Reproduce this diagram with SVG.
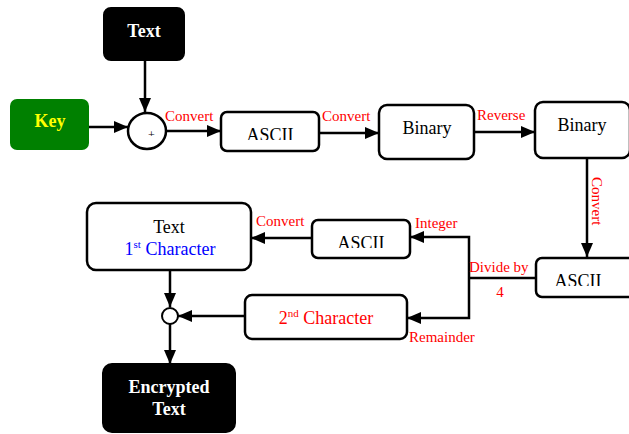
<svg xmlns="http://www.w3.org/2000/svg" width="629" height="434" viewBox="0 0 629 434" font-family="'Liberation Serif', 'Times New Roman', 'DejaVu Serif', serif">
<style>
text{font-family:'Liberation Serif','Times New Roman','DejaVu Serif',serif}
.box{fill:#fff;stroke:#000;stroke-width:2.5}
.dark{fill:#000;stroke:#000;stroke-width:2}
.t{font-size:18px;text-anchor:middle;fill:#000}
.b{font-size:18px;font-weight:bold;text-anchor:middle;fill:#fff}
.l{font-size:15px;fill:#ff0000}
.c{fill:none;stroke:#000;stroke-width:2.5}
.e{fill:none;stroke:#000;stroke-width:2.5;marker-end:url(#ah)}
</style>
<defs>
<marker id="ah" viewBox="0 0 14 12" refX="14" refY="6" markerWidth="14" markerHeight="12" markerUnits="userSpaceOnUse" orient="auto">
<path d="M0,0 L14,6 L0,12 Z" fill="#000"/>
</marker>
<clipPath id="c1"><rect x="200" y="110" width="140" height="30"/></clipPath>
<clipPath id="c2"><rect x="300" y="220" width="130" height="28"/></clipPath>
<clipPath id="c3"><rect x="520" y="258" width="120" height="28"/></clipPath>
<clipPath id="cp"><rect x="130" y="125" width="40" height="11"/></clipPath>
</defs>
<g id="connectors">
<path class="e" d="M145,60 V112"/>
<path class="e" d="M89,127 H128"/>
<path class="e" d="M166,131 H221"/>
<path class="e" d="M319,133 H379"/>
<path class="e" d="M474,132 H535"/>
<path class="e" d="M587,158 V257"/>
<path class="c" d="M536,278 H469"/>
<path class="e" d="M469,278 V237 H410"/>
<path class="e" d="M469,278 V318 H407"/>
<path class="e" d="M312,238 H251"/>
<path class="e" d="M170,270 V307"/>
<path class="e" d="M245,316 H178"/>
<path class="e" d="M170,324 V364"/>
<text class="l" x="165" y="121">Convert</text>
<text class="l" x="322" y="121">Convert</text>
<text class="l" x="477" y="120">Reverse</text>
<text class="l" x="592" y="177" transform="rotate(90 592 177)">Convert</text>
<text class="l" x="469" y="272">Divide by</text>
<text class="l" x="500" y="297" text-anchor="middle">4</text>
<text class="l" x="415" y="228">Integer</text>
<text class="l" x="409" y="342">Remainder</text>
<text class="l" x="256" y="226">Convert</text>
</g>
<g id="text-top"><rect class="dark" x="104" y="8" width="80" height="52" rx="7"/><text class="b" x="144" y="37">Text</text></g>
<g id="key"><rect x="10" y="99" width="79" height="51" rx="7" fill="#008000"/><text class="b" x="50" y="127" style="fill:#ffff00">Key</text></g>
<g id="sum"><ellipse cx="147" cy="131" rx="19" ry="18" fill="#fff" stroke="#000" stroke-width="2.5"/><text class="t" x="151.5" y="138.5" clip-path="url(#cp)" style="font-size:12px">+</text></g>
<g id="ascii1"><rect class="box" x="221" y="112" width="98" height="39" rx="6"/><text class="t" x="270" y="141" clip-path="url(#c1)">ASCII</text></g>
<g id="binary1"><rect class="box" x="379" y="105" width="95" height="54" rx="8"/><text class="t" x="427" y="134">Binary</text></g>
<g id="binary2"><rect class="box" x="535" y="102" width="95" height="56" rx="8"/><text class="t" x="582" y="131">Binary</text></g>
<g id="ascii3"><rect class="box" x="536" y="258" width="100" height="39" rx="6"/><text class="t" x="578" y="287" clip-path="url(#c3)">ASCII</text></g>
<g id="ascii2"><rect class="box" x="312" y="220" width="98" height="38" rx="6"/><text class="t" x="361" y="249" clip-path="url(#c2)">ASCII</text></g>
<g id="text-1st"><rect class="box" x="87" y="203" width="164" height="67" rx="9"/><text class="t" x="169" y="233">Text</text><text class="t" x="170" y="255" style="fill:#0000ff">1<tspan font-size="11" dy="-7">st</tspan><tspan dy="7"> Character</tspan></text></g>
<g id="char2"><rect class="box" x="245" y="295" width="162" height="44" rx="7"/><text class="t" x="326" y="324" style="fill:#ff0000">2<tspan font-size="11" dy="-7">nd</tspan><tspan dy="7"> Character</tspan></text></g>
<g id="join"><circle cx="170" cy="316" r="8" fill="#fff" stroke="#000" stroke-width="2"/></g>
<g id="encrypted"><rect class="dark" x="103" y="364" width="132" height="68" rx="9"/><text class="b" x="169" y="393">Encrypted</text><text class="b" x="169" y="415">Text</text></g>
</svg>
